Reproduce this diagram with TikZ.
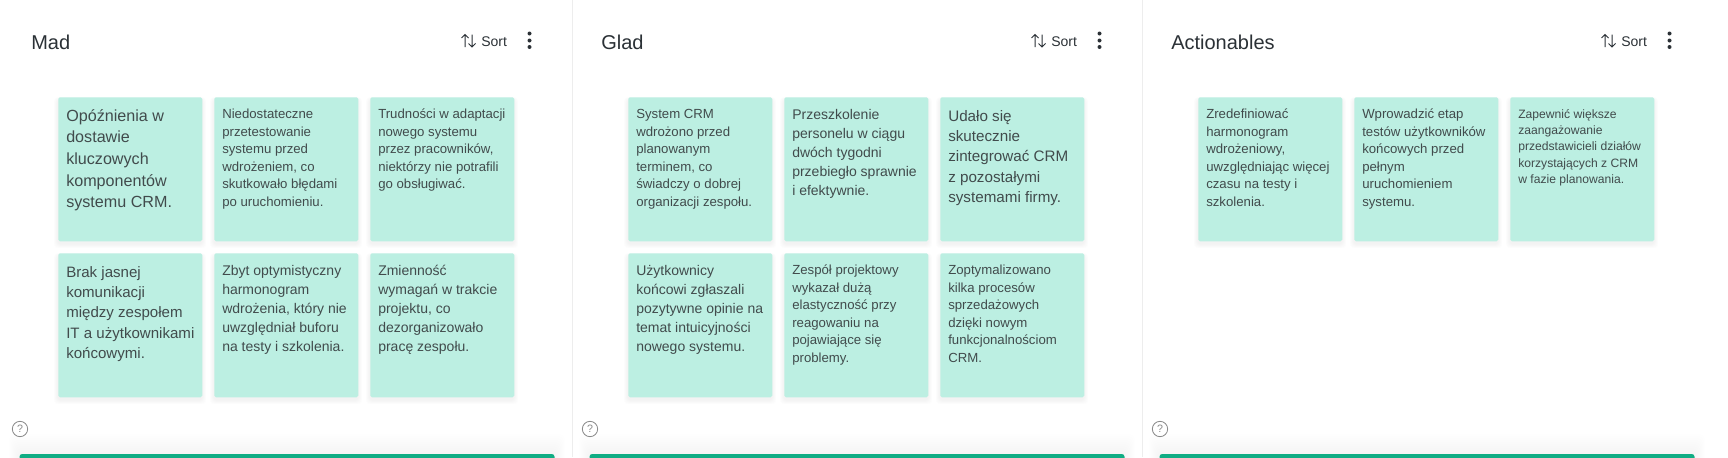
\documentclass[tikz,border=0pt]{standalone}
\usepackage{fontspec}
\setmainfont{Liberation Sans}
\definecolor{stickyfill}{HTML}{BCEFE2}
\definecolor{stickyink}{HTML}{414B4C}
\definecolor{headink}{HTML}{2B3136}
\definecolor{barfill}{HTML}{10AD84}
\definecolor{divline}{HTML}{EDEDED}
\definecolor{helpink}{HTML}{8A8A8A}
\tikzset{
  x=0.75pt,y=-0.75pt,
  stickybox/.style={fill=stickyfill,rounded corners=1.2pt,minimum width=108pt,minimum height=108pt,inner sep=0pt,anchor=north west},
  softshade/.style={fill=black,fill opacity=0.008,draw=none},
  cardtext/.style={anchor=base west,inner sep=0pt,text=stickyink},
  paneltitle/.style={anchor=base west,inner sep=0pt,text=headink,font=\fontsize{15}{18}\selectfont},
  sorttext/.style={anchor=base west,inner sep=0pt,text=headink,font=\fontsize{10.5}{12}\selectfont},
  iconline/.style={draw=headink,line width=0.75pt},
  helpring/.style={circle,draw=helpink,line width=0.6pt,minimum size=11.5pt,inner sep=0pt,text=helpink,font=\fontsize{8}{9}\selectfont},
}
% \stickycard{name}{x}{y}{font size pt}{leading pt}{baseline offset px}{lines}
\newcommand{\stickycard}[7]{%
  \foreach \grow in {1,2,...,6}{
    \fill[softshade,rounded corners=3pt] (#2-\grow*0.7,#3+3-\grow*0.5) rectangle (#2+144+\grow*0.7,#3+144+3+\grow*0.7);
  }
  \node[stickybox] (#1) at (#2,#3) {};
  \node[cardtext] (#1t) at ($(#2+8,#3+#6)$) {\begin{minipage}[t]{128pt}\raggedright\fontsize{#4}{#5}\selectfont #7\end{minipage}};
}
% \panelhead{name}{offset}{title}
\newcommand{\panelhead}[3]{%
  \node[paneltitle] (#1title) at (#2+31,49) {#3};
  \draw[iconline] (#2+465,47) -- (#2+465,34.5) (#2+461.5,38) -- (#2+465,34.5) -- (#2+468.5,38);
  \draw[iconline] (#2+472,34.5) -- (#2+472,47) (#2+468.5,43.5) -- (#2+472,47) -- (#2+475.5,43.5);
  \node[sorttext] (#1sort) at (#2+481,46) {Sort};
  \fill[headink] (#2+529.5,33.5) circle (1.5pt) (#2+529.5,40.5) circle (1.5pt) (#2+529.5,47) circle (1.5pt);
  \node[helpring] (#1help) at (#2+20,429) {?};
  \foreach \grow in {1,2,...,10}{
    \fill[softshade,fill opacity=0.005,rounded corners=4pt] (#2+19-\grow,454-\grow*2) rectangle (#2+555+\grow,470);
  }
  \fill[barfill,rounded corners=2pt] (#2+19.5,454) rectangle (#2+554.5,462);
}
\usetikzlibrary{calc}
\begin{document}
\begin{tikzpicture}
\useasboundingbox (0,0) rectangle (1728,457);
\fill[white] (0,0) rectangle (1728,457);
\draw[divline,line width=0.75pt] (572,0) -- (572,457) (1142,0) -- (1142,457);
\panelhead{mad}{0}{Mad}
\panelhead{glad}{570}{Glad}
\panelhead{act}{1140}{Actionables}
% Mad
\stickycard{m1}{58}{97}{12.1}{16.3}{24}{Opóźnienia w\\dostawie\\kluczowych\\komponentów\\systemu CRM.}
\stickycard{m2}{214}{97}{9.9}{13.2}{21.5}{Niedostateczne\\przetestowanie\\systemu przed\\wdrożeniem, co\\skutkowało błędami\\po uruchomieniu.}
\stickycard{m3}{370}{97}{9.9}{13.2}{21.5}{Trudności w adaptacji\\nowego systemu\\przez pracowników,\\niektórzy nie potrafili\\go obsługiwać.}
\stickycard{m4}{58}{253}{11.3}{15.3}{24}{Brak jasnej\\komunikacji\\między zespołem\\IT a użytkownikami\\końcowymi.}
\stickycard{m5}{214}{253}{10.5}{14.25}{22}{Zbyt optymistyczny\\harmonogram\\wdrożenia, który nie\\uwzględniał buforu\\na testy i szkolenia.}
\stickycard{m6}{370}{253}{10.5}{14.25}{22}{Zmienność\\wymagań w trakcie\\projektu, co\\dezorganizowało\\pracę zespołu.}
% Glad
\stickycard{g1}{628}{97}{9.9}{13.2}{21.5}{System CRM\\wdrożono przed\\planowanym\\terminem, co\\świadczy o dobrej\\organizacji zespołu.}
\stickycard{g2}{784}{97}{10.5}{14.25}{22}{Przeszkolenie\\personelu w ciągu\\dwóch tygodni\\przebiegło sprawnie\\i efektywnie.}
\stickycard{g3}{940}{97}{11.4}{15.3}{24}{Udało się\\skutecznie\\zintegrować CRM\\z pozostałymi\\systemami firmy.}
\stickycard{g4}{628}{253}{10.5}{14.25}{22}{Użytkownicy\\końcowi zgłaszali\\pozytywne opinie na\\temat intuicyjności\\nowego systemu.}
\stickycard{g5}{784}{253}{9.9}{13.2}{21.5}{Zespół projektowy\\wykazał dużą\\elastyczność przy\\reagowaniu na\\pojawiające się\\problemy.}
\stickycard{g6}{940}{253}{9.9}{13.2}{21.5}{Zoptymalizowano\\kilka procesów\\sprzedażowych\\dzięki nowym\\funkcjonalnościom\\CRM.}
% Actionables
\stickycard{a1}{1198}{97}{9.9}{13.2}{21.5}{Zredefiniować\\harmonogram\\wdrożeniowy,\\uwzględniając więcej\\czasu na testy i\\szkolenia.}
\stickycard{a2}{1354}{97}{9.9}{13.2}{21.5}{Wprowadzić etap\\testów użytkowników\\końcowych przed\\pełnym\\uruchomieniem\\systemu.}
\stickycard{a3}{1510}{97}{9.1}{12.25}{21}{Zapewnić większe\\zaangażowanie\\przedstawicieli działów\\korzystających z CRM\\w fazie planowania.}
\end{tikzpicture}
\end{document}
